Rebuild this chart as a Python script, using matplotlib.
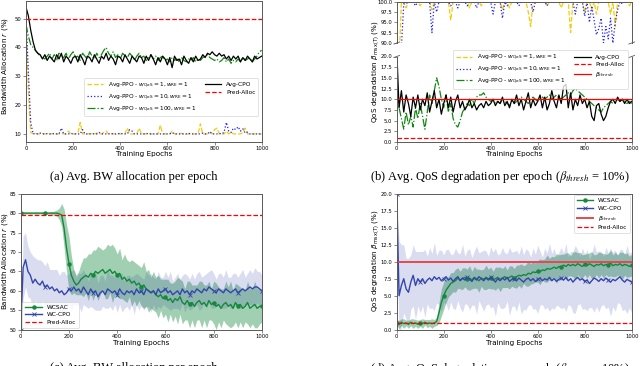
"""
Four-panel training curves: bandwidth allocation and QoS degradation per epoch
for the average-case (PPO / CPO) agents and the worst-case (WCSAC / WC-CPO) agents.
Values are read off the published figure, sampled every 10 epochs.
"""

import matplotlib
matplotlib.use("Agg")
import matplotlib.pyplot as plt
import numpy as np

# epoch grid (one sample every 10 epochs)
epochs = np.arange(0, 1001, 10)

# ---- (a) avg. BW allocation, average-case agents ----
cpo_bw = [
    54, 51, 46, 42, 39, 38, 37.5, 36, 37.5, 35.5,
    37, 36, 35, 37.5, 36, 38, 35, 37, 36, 34.5,
    36.5, 37, 35, 37.5, 36, 34, 37, 36.5, 35, 37.5,
    36, 34.5, 37, 36, 38, 35.5, 37, 36, 34, 37,
    36.5, 35, 37.5, 36, 34.5, 37, 36, 35, 37, 36.5,
    34.5, 37, 35.5, 37.5, 36, 34, 36.5, 35, 37, 36,
    34, 36.5, 33, 37, 35.5, 36, 34, 37, 35.5, 34.5,
    36.5, 35, 37, 35.5, 36, 37.5, 36.5, 38, 37.5, 38.5,
    37.5, 37, 38, 37, 37.5, 36, 37, 35.5, 37, 36,
    37, 35, 36.5, 35.5, 37, 36, 35, 37, 36, 36.5,
    37,
]
ppo100_bw = [
    48, 44, 41, 40, 39, 38, 37, 36.5, 36, 37,
    38, 36, 37.5, 35.5, 38, 37, 36.5, 38, 36, 37.5,
    38.5, 36.5, 37, 35.5, 38, 37, 36, 38.5, 37, 36,
    38, 36.5, 37.5, 39, 40, 38, 37, 38.5, 36.5, 37.5,
    36, 38, 37, 36.5, 38, 37, 35.5, 37, 38, 36.5,
    37, 35.5, 36.5, 37.5, 36, 37, 35.5, 36.5, 37, 35.5,
    36, 35, 36.5, 35.5, 36, 35, 36.5, 35.5, 35, 36,
    35.5, 36.5, 35, 36, 35.5, 36.5, 37, 37.5, 36.5, 36,
    35.5, 36, 35, 35.5, 36.5, 35, 36, 34.5, 35.5, 35,
    36, 35, 36.5, 35.5, 36, 36.5, 35, 36, 37, 38.5,
    39,
]
ppo1_bw = [
    50, 25, 10.5, 10, 10.2, 10, 10, 10.1, 10, 10,
    10, 10.1, 10, 10, 10, 10.2, 10, 10, 11, 10,
    10, 10, 10.2, 14, 10, 10, 10, 10.1, 10, 10,
    10.3, 10, 10, 10.5, 11, 10, 10, 10, 10, 10,
    10, 10, 10.2, 12, 10, 10, 10, 10, 12, 10,
    10, 10, 10.1, 10, 10, 10, 10, 13, 10, 10,
    10, 10, 11, 10, 10, 10, 10.2, 10, 10, 10,
    10, 10, 10, 10, 13.5, 10, 10, 10, 10.5, 10,
    11.5, 12, 10, 10, 10, 11, 10, 10.5, 10, 10,
    10, 10, 10.5, 12, 10, 10, 10, 10, 10, 10,
    10,
]
ppo10_bw = [
    50, 32, 14, 10, 10.2, 10, 10.3, 10, 10, 10.1,
    10, 10, 10.1, 10, 10, 12, 10, 10, 10, 10.2,
    10, 10, 10, 10, 11.5, 10, 10, 10, 10, 10.1,
    10, 10.5, 10, 10, 10, 10, 10.2, 10, 10, 10,
    10.3, 10, 10, 10, 11.5, 11, 10, 10, 10, 10,
    10, 10.2, 10, 10, 10, 10, 10, 10, 10, 10,
    10, 10, 10.5, 10, 10, 10, 10, 10, 10, 10.2,
    10, 10, 10, 10, 10, 10.3, 10, 10, 10.8, 10,
    10, 10, 10.2, 10, 10.5, 14, 11, 10.5, 12, 11.5,
    12.5, 11, 11.8, 10.3, 10.6, 10, 10, 10, 10, 10,
    10,
]
pred_alloc_bw_avg = 50

# ---- (b) avg. QoS degradation, average-case agents ----
cpo_qos = [
    22, 8, 12, 7, 11, 9, 6, 10.5, 8, 11,
    7.5, 10, 8.5, 11.5, 7, 9.5, 12, 8, 10, 6.5,
    9, 11, 8, 10.5, 7, 9.5, 11, 8, 9.5, 7.5,
    8.5, 10, 8, 9, 7.5, 8.5, 9, 8, 9.5, 8.5,
    9, 10, 8.5, 9.5, 9, 10.5, 8.5, 9.5, 8, 10,
    9, 11, 8.5, 10, 7.5, 9.5, 11.5, 8, 10, 8.5,
    9.5, 11, 8, 10.5, 7.5, 9, 12, 9.5, 8, 11,
    9, 13, 13.5, 8, 11.5, 7.5, 10, 8.5, 11, 9,
    10, 8, 9.5, 6, 5, 8.5, 9, 6.5, 5, 6,
    8, 9.5, 10, 9, 10.5, 9.5, 10, 9, 10, 9,
    9.5,
]
ppo100_qos = [
    14, 8, 5.5, 3, 7, 4, 6, 3.5, 8, 5.5,
    9, 6, 3, 7, 11, 9, 12, 15, 13, 10,
    8, 11, 7, 9, 5.5, 4, 3.5, 5, 7, 8,
    9, 8.5, 10, 9, 10.5, 11, 11, 11.5, 10.5, 10,
    9.5, 10, 9, 9.5, 9, 10, 9.5, 9, 8.5, 9.5,
    9, 9.5, 10, 10.5, 10, 9.5, 9, 10, 10.5, 10,
    9.5, 10, 10.5, 10, 10.5, 11, 10, 10.5, 11, 10.5,
    10, 10.5, 11, 11.5, 11, 12, 12.5, 12, 11.5, 11,
    10.5, 10, 9.5, 9, 8.5, 8, 7.5, 7, 8, 8.5,
    9, 9.5, 9, 9.5, 10, 9.5, 10, 9.5, 9, 9.5,
    9,
]
ppo1_qos = [
    20, 85, 100, 100, 98.5, 100, 100, 100, 100, 100,
    99, 100, 100, 100, 100, 98, 100, 100, 100, 100,
    100, 100, 100, 95.5, 100, 100, 100, 100, 100, 100,
    100, 98.5, 100, 100, 100, 100, 99, 100, 100, 100,
    100, 100, 100, 100, 100, 98, 100, 100, 98.5, 100,
    100, 100, 100, 100, 100, 100, 97.5, 94, 100, 100,
    100, 100, 100, 100, 99, 100, 100, 100, 100, 100,
    98.5, 100, 100, 100, 92.5, 100, 100, 100, 100, 100,
    97.5, 100, 100, 98, 100, 97, 100, 100, 100, 100,
    100, 97, 100, 94, 100, 100, 100, 100, 100, 99,
    100,
]
ppo10_qos = [
    20, 50, 89, 99.5, 99.5, 100, 100, 100, 99, 100,
    100, 100, 100, 100, 100, 92.5, 100, 97.5, 100, 100,
    100, 100, 100, 99, 100, 100, 98.5, 100, 100, 100,
    99, 100, 100, 100, 98.5, 100, 100, 100, 100, 100,
    100, 97, 100, 100, 100, 96, 100, 99, 100, 100,
    100, 100, 99, 100, 100, 100, 100, 100, 97.5, 100,
    100, 100, 100, 100, 99, 100, 100, 100, 100, 100,
    100, 100, 100, 100, 100, 100, 97, 100, 100, 100,
    96.5, 100, 95, 99, 95.5, 92, 93.5, 96, 90, 94,
    91, 96, 90, 95, 98, 100, 99.5, 100, 100, 100,
    100,
]
beta_thresh = 10
pred_alloc_qos = 1

# ---- (c) avg. BW allocation, worst-case agents (mean and half-width of band) ----
wcsac_bw = [
    80, 80, 80, 80, 80, 80, 80, 80, 80, 80,
    80, 80, 80, 80, 80, 80, 79.8, 79.5, 76, 71,
    67, 64, 62.5, 61.5, 62, 63, 63.5, 64, 63.5, 64.5,
    64, 65, 64.5, 65, 65.5, 64.5, 65, 65.5, 64.5, 65,
    64, 64.5, 63, 63.5, 62.5, 63, 62, 62.5, 61.5, 62,
    61, 61.5, 60.5, 60, 59.5, 60, 59, 58.5, 59, 58,
    58.5, 57.5, 58, 57, 58, 57.5, 58.5, 57, 56.5, 57.5,
    56.5, 57, 56, 57, 57.5, 56.5, 57, 56, 57.5, 56.5,
    57, 56, 56.5, 55.5, 56.5, 57, 56, 56.5, 55.5, 57,
    56, 56.5, 55.5, 56, 57, 55.5, 56, 56.5, 55.5, 56,
    56,
]
wcsac_bw_sd = [
    0.2, 0.3, 0.3, 0.2, 0.3, 0.2, 0.3, 0.3, 0.2, 0.3,
    0.3, 0.2, 0.3, 0.4, 0.5, 0.8, 1.5, 3, 5, 6,
    7, 5, 3, 2.5, 3, 4, 5, 4.5, 6, 5,
    6.5, 5.5, 7, 6, 5, 6.5, 7, 6, 7.5, 6,
    5.5, 6.5, 5, 6, 5.5, 4.5, 6, 5, 5.5, 4.5,
    5, 6, 4.5, 5.5, 4, 5, 4.5, 5.5, 4, 5,
    4.5, 5.5, 4, 5, 4.5, 6, 4.5, 5.5, 4, 5,
    6, 4.5, 5.5, 4.5, 5, 6, 4.5, 5.5, 5, 4,
    5.5, 6, 4.5, 5, 4, 5.5, 5, 6, 4.5, 5,
    5.5, 4.5, 5, 4, 5.5, 5, 4.5, 6, 5, 4.5,
    4,
]
wccpo_bw = [
    50, 66, 68, 65, 64, 62, 63, 62, 61.5, 62.5,
    61, 61.5, 60.5, 61, 60, 60.5, 59.5, 60, 59, 59.5,
    60.5, 60, 61, 60, 60.5, 59.5, 61, 60, 59, 60.5,
    59.5, 60, 58.5, 59.5, 60, 59, 60.5, 60, 59.5, 60,
    59, 60.5, 59.5, 59, 60, 59.5, 60, 59, 60.5, 59.5,
    60, 59, 60.5, 60, 59.5, 60, 59, 60.5, 59.5, 60,
    60.5, 59.5, 60, 59, 59.5, 60, 59, 60.5, 59.5, 60,
    59, 60, 59.5, 60.5, 60, 59.5, 60.5, 60, 61, 60.5,
    60, 59.5, 60.5, 60, 59.5, 60.5, 60, 59.5, 60, 60.5,
    59.5, 60, 60.5, 60, 60.5, 61, 60.5, 61, 61, 60.5,
    60,
]
wccpo_bw_sd = [
    0, 8, 7, 6.5, 6, 7, 5.5, 6, 6.5, 5,
    5.5, 6, 5, 4.5, 5.5, 5, 4.5, 5, 6, 4.5,
    4, 5, 4.5, 3.5, 4, 5, 4.5, 4, 3.5, 4.5,
    4, 5, 3.5, 4.5, 4, 3.5, 5, 4, 4.5, 3.5,
    4.5, 4, 5, 3.5, 4, 4.5, 3.5, 5, 4, 4.5,
    3.5, 4, 4.5, 4, 5, 3.5, 4, 4.5, 4, 3.5,
    4.5, 4, 5, 3.5, 4, 4.5, 4, 3.5, 5, 4,
    4, 4.5, 3.5, 4, 5, 4, 3.5, 4.5, 4, 5,
    4.5, 3.5, 4, 4.5, 4, 5, 3.5, 4, 4.5, 4,
    4, 4.5, 5, 3.5, 4, 4.5, 4, 5, 4, 4.5,
    4,
]
pred_alloc_bw_wc = 79.5

# ---- (d) avg. QoS degradation, worst-case agents ----
wcsac_qos = [
    1.0, 0.8, 1.1, 0.9, 1.0, 0.8, 1.1, 0.9, 1.0, 0.8,
    1.0, 0.9, 1.1, 0.9, 1.0, 0.9, 1.0, 1.2, 2.5, 4.0,
    5.0, 5.8, 6.3, 6.8, 7.0, 7.2, 7.6, 7.3, 7.5, 7.7,
    7.4, 7.6, 7.3, 7.7, 7.5, 7.2, 7.6, 7.4, 7.7, 7.5,
    7.6, 7.3, 7.5, 7.7, 7.4, 7.6, 7.8, 7.5, 7.7, 7.9,
    7.6, 7.8, 8.0, 7.9, 8.1, 8.0, 8.3, 8.2, 8.5, 8.4,
    8.6, 8.5, 8.8, 8.7, 9.0, 8.9, 9.0, 9.2, 9.0, 9.3,
    9.2, 9.5, 9.3, 9.6, 9.4, 9.6, 9.4, 9.7, 9.5, 9.3,
    9.6, 9.4, 9.7, 9.5, 9.3, 9.6, 9.5, 9.7, 9.4, 9.6,
    9.5, 9.8, 9.4, 9.6, 9.5, 9.7, 9.4, 9.6, 9.5, 9.3,
    9.5,
]
wcsac_qos_sd = [
    0.4, 0.6, 0.5, 0.7, 0.4, 0.6, 0.5, 0.7, 0.5, 0.6,
    0.5, 0.7, 0.4, 0.6, 0.5, 0.7, 0.5, 0.6, 1.5, 2.0,
    2.0, 1.8, 1.5, 1.6, 1.4, 1.7, 1.5, 1.3, 1.6, 1.4,
    1.5, 1.8, 1.3, 1.6, 1.4, 1.7, 1.2, 1.5, 1.8, 1.4,
    1.6, 1.3, 1.7, 1.5, 1.8, 1.4, 1.6, 1.3, 1.7, 1.5,
    1.4, 1.7, 1.5, 1.8, 1.3, 1.6, 1.9, 1.5, 1.7, 1.4,
    1.6, 1.9, 1.5, 1.7, 2.0, 1.6, 1.8, 1.5, 2.2, 1.7,
    1.9, 1.6, 2.0, 1.7, 1.5, 1.8, 2.1, 1.6, 1.9, 1.7,
    1.5, 1.8, 1.6, 2.0, 1.7, 1.5, 1.9, 1.6, 1.8, 1.5,
    1.7, 1.9, 1.6, 1.8, 1.5, 1.7, 2.0, 1.6, 1.8, 1.5,
    1.6,
]
wccpo_qos = [
    20, 5, 6.5, 7.5, 6, 5.5, 7, 8, 6.5, 7.5,
    7, 7.5, 6.8, 7.3, 7.6, 7.2, 7.8, 7.4, 7.7, 7.2,
    7.5, 7.8, 7.3, 7.6, 7.1, 7.5, 7.8, 7.2, 7.6, 7.3,
    7.7, 7.4, 7.1, 7.6, 7.3, 7.8, 7.5, 7.2, 7.6, 7.3,
    7.7, 7.4, 7.0, 7.5, 7.2, 7.6, 7.3, 7.7, 7.1, 7.4,
    7.5, 7.2, 7.6, 7.3, 7.0, 7.4, 7.6, 7.2, 7.5, 7.1,
    7.4, 7.6, 7.2, 7.5, 7.3, 7.7, 7.2, 7.5, 7.1, 7.4,
    7.6, 7.3, 7.7, 7.2, 7.5, 7.0, 7.4, 7.7, 7.3, 7.5,
    7.1, 7.3, 6.8, 7.2, 7.6, 7.4, 7.1, 7.5, 7.2, 7.6,
    7.3, 7.0, 7.4, 7.2, 7.5, 7.8, 7.3, 7.0, 7.4, 7.2,
    7.0,
]
wccpo_qos_sd = [
    0, 8, 6, 5, 4.5, 5, 4, 4.5, 5, 4,
    4.5, 4, 5, 3.5, 4.5, 4, 5, 3.5, 4, 4.5,
    3.5, 4, 4.5, 3.5, 4, 4.5, 3.5, 4, 5, 3.5,
    4, 4.5, 3.5, 4, 5, 3.5, 4, 4.5, 4, 3.5,
    4.5, 4, 5, 3.5, 4, 4.5, 4, 3.5, 5, 4,
    4, 4.5, 3.5, 5, 4, 4.5, 4, 3.5, 4.5, 4,
    5, 4, 3.5, 4.5, 4, 5, 4, 4.5, 3.5, 4,
    4.5, 4, 5, 3.5, 4, 4.5, 5, 4, 3.5, 4.5,
    4, 4.5, 3.5, 4, 5, 4, 4.5, 4, 3.5, 4.5,
    4, 5, 4, 4.5, 3.5, 4, 4.5, 4, 5, 4,
    4.5,
]

PPO_LABELS = [
    r"Avg-PPO - $w_{\mathrm{QoS}} = 1, w_{\mathrm{RE}} = 1$",
    r"Avg-PPO - $w_{\mathrm{QoS}} = 10, w_{\mathrm{RE}} = 1$",
    r"Avg-PPO - $w_{\mathrm{QoS}} = 100, w_{\mathrm{RE}} = 1$",
]
YELLOW, BLUE, GREEN = "#f2cc0c", "#1f1fff", "#118811"
SAC_GREEN, CPO_BLUE = "#14883c", "#3446ab"

W, H = 640, 366


def box(x0, y0, x1, y1):
    """pixel box (from top-left) -> figure fraction rect"""
    return [x0 / W, 1 - y1 / H, (x1 - x0) / W, (y1 - y0) / H]


def style_axes(ax):
    for sp in ax.spines.values():
        sp.set_color("0.35")
        sp.set_linewidth(0.7)
    ax.tick_params(labelsize=3.8, length=2, width=0.5, pad=1.2, color="0.35")
    ax.set_xlim(0, 1000)
    ax.set_xticks(range(0, 1001, 200))


def legend(ax, **kw):
    leg = ax.legend(fontsize=4.2, handlelength=2.8, borderpad=0.5,
                    labelspacing=0.45, handletextpad=0.8, **kw)
    leg.get_frame().set_linewidth(0.5)
    return leg


fig = plt.figure(figsize=(W / 100, H / 100), dpi=100)

# (a)
ax_a = fig.add_axes(box(26, 0.5, 261.7, 142))
style_axes(ax_a)
ax_a.plot(epochs, ppo1_bw, "--", color=YELLOW, lw=0.9, label=PPO_LABELS[0])
ax_a.plot(epochs, ppo10_bw, ":", color=BLUE, lw=0.9, label=PPO_LABELS[1])
ax_a.plot(epochs, ppo100_bw, "-.", color=GREEN, lw=0.9, label=PPO_LABELS[2])
ax_a.plot(epochs, cpo_bw, "-", color="black", lw=0.9, label="Avg-CPO")
ax_a.axhline(pred_alloc_bw_avg, ls="--", color="red", lw=0.9, label="Pred-Alloc")
ax_a.set_ylim(7.2, 56.3)
ax_a.set_yticks([10, 20, 30, 40, 50])
legend(ax_a, ncol=2, loc="lower right", bbox_to_anchor=(0.998, 0.16), columnspacing=1.5)

# (b) broken y axis: 90-100 on top, 0-20 below
ax_bt = fig.add_axes(box(396.7, 1.7, 631.7, 43))
ax_bb = fig.add_axes(box(396.7, 56.5, 631.7, 142))
for ax in (ax_bt, ax_bb):
    style_axes(ax)
    ax.plot(epochs, ppo1_qos, "--", color=YELLOW, lw=0.9, label=PPO_LABELS[0])
    ax.plot(epochs, ppo10_qos, ":", color=BLUE, lw=0.9, label=PPO_LABELS[1])
    ax.plot(epochs, ppo100_qos, "-.", color=GREEN, lw=0.9, label=PPO_LABELS[2])
    ax.plot(epochs, cpo_qos, "-", color="black", lw=0.9, label="Avg-CPO")
ax_bb.axhline(pred_alloc_qos, ls="--", color="red", lw=0.9, label="Pred-Alloc")
ax_bb.axhline(beta_thresh, ls="-", color="red", lw=0.9, label=r"$\beta_{thresh}$")
ax_bt.set_ylim(90, 100)
ax_bt.set_yticks(np.arange(90, 100.1, 2.5))
ax_bt.spines["bottom"].set_visible(False)
ax_bt.tick_params(bottom=False, labelbottom=False)
ax_bb.set_ylim(0, 20)
ax_bb.set_yticks(np.arange(0, 20.1, 2.5))
ax_bb.spines["top"].set_visible(False)
d = 0.012
k = 85.5 / 41.3
kw = dict(color="0.35", lw=0.6, clip_on=False)
ax_bt.plot((-d, d), (-d * k, d * k), transform=ax_bt.transAxes, **kw)
ax_bt.plot((1 - d, 1 + d), (-d * k, d * k), transform=ax_bt.transAxes, **kw)
ax_bb.plot((-d, d), (1 - d, 1 + d), transform=ax_bb.transAxes, **kw)
ax_bb.plot((1 - d, 1 + d), (1 - d, 1 + d), transform=ax_bb.transAxes, **kw)
legend(ax_bb, ncol=2, loc="upper right", bbox_to_anchor=(0.995, 1.11), columnspacing=1.5)

# (c)
ax_c = fig.add_axes(box(20.7, 193.7, 262, 329.7))
style_axes(ax_c)
m, s = np.array(wcsac_bw), np.array(wcsac_bw_sd)
ax_c.fill_between(epochs, m - s, m + s, color=SAC_GREEN, alpha=0.4, lw=0)
m2, s2 = np.array(wccpo_bw), np.array(wccpo_bw_sd)
ax_c.fill_between(epochs, m2 - s2, m2 + s2, color=CPO_BLUE, alpha=0.18, lw=0)
ax_c.plot(epochs, wcsac_bw, "-o", color=SAC_GREEN, lw=1.0, ms=2.2, markevery=10, label="WCSAC")
ax_c.plot(epochs, wccpo_bw, "-x", color=CPO_BLUE, lw=1.0, ms=2.5, mew=0.6, markevery=10, label="WC-CPO")
ax_c.axhline(pred_alloc_bw_wc, ls="--", color="red", lw=0.9, label="Pred-Alloc")
ax_c.set_ylim(50, 85)
ax_c.set_yticks(range(50, 86, 5))
legend(ax_c, loc="lower left", borderaxespad=0.3)

# (d)
ax_d = fig.add_axes(box(396.7, 193.7, 631.7, 329.7))
style_axes(ax_d)
m, s = np.array(wcsac_qos), np.array(wcsac_qos_sd)
ax_d.fill_between(epochs, m - s, m + s, color=SAC_GREEN, alpha=0.4, lw=0)
m2, s2 = np.array(wccpo_qos), np.array(wccpo_qos_sd)
ax_d.fill_between(epochs, m2 - s2, m2 + s2, color=CPO_BLUE, alpha=0.18, lw=0)
ax_d.plot(epochs, wcsac_qos, "-o", color=SAC_GREEN, lw=1.0, ms=2.2, markevery=10, label="WCSAC")
ax_d.plot(epochs, wccpo_qos, "-x", color=CPO_BLUE, lw=1.0, ms=2.5, mew=0.6, markevery=10, label="WC-CPO")
ax_d.axhline(beta_thresh, ls="-", color="#e8474c", lw=1.4, label=r"$\beta_{thresh}$")
ax_d.axhline(pred_alloc_qos, ls="--", color="red", lw=0.9, label="Pred-Alloc")
ax_d.set_ylim(0, 20)
ax_d.set_yticks(np.arange(0, 20.1, 2.5))
legend(ax_d, loc="upper right", borderaxespad=0.3)

# axis labels (placed in figure pixels so the broken axis shares one label)
lab = dict(fontsize=5.2, ha="center", va="center")
fig.text(5 / W, 1 - 66 / H, r"Bandwidth Allocation $r$ (%)", rotation=90, **lab)
fig.text(376 / W, 1 - 72 / H, r"QoS degradation $\beta_{\max(T)}$ (%)", rotation=90, **lab)
fig.text(5.5 / W, 1 - 261 / H, r"Bandwidth Allocation $r$ (%)", rotation=90, **lab)
fig.text(376 / W, 1 - 261 / H, r"QoS degradation $\beta_{\max(T)}$ (%)", rotation=90, **lab)
fig.text(144 / W, 1 - 154 / H, "Training Epochs", **lab)
fig.text(514 / W, 1 - 154 / H, "Training Epochs", **lab)
fig.text(141 / W, 1 - 343 / H, "Training Epochs", **lab)
fig.text(514 / W, 1 - 343 / H, "Training Epochs", **lab)

# sub-figure captions
cap = dict(fontsize=9, family="Liberation Serif", math_fontfamily="stix", ha="left")
fig.text(50 / W, 1 - 177 / H, "(a) Avg. BW allocation per epoch", va="center", **cap)
fig.text(370 / W, 1 - 177 / H,
         r"(b) Avg. QoS degradation per epoch ($\beta_{thresh}$ = 10%)", va="center", **cap)
fig.text(50 / W, 1 - 362 / H, "(c) Avg. BW allocation per epoch", va="top", **cap)
fig.text(370 / W, 1 - 361 / H,
         r"(d) Avg. QoS degradation per epoch ($\beta_{thresh}$ = 10%)", va="top", **cap)

fig.savefig("out.png", dpi=100)
